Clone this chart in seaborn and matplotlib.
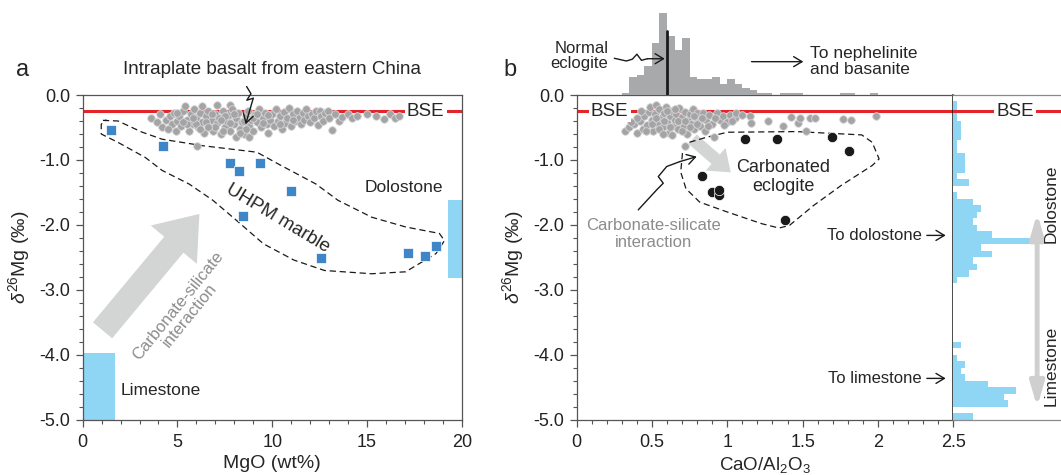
import matplotlib
matplotlib.use("Agg")
import matplotlib.pyplot as plt
from matplotlib.ticker import MultipleLocator, FuncFormatter
import numpy as np
import pandas as pd
import seaborn as sns

sns.set_theme(style="ticks")
plt.rcParams["font.family"] = ["Liberation Sans", "DejaVu Sans"]
plt.rcParams["axes.unicode_minus"] = False
plt.rcParams["mathtext.fontset"] = "custom"
plt.rcParams["mathtext.rm"] = "Liberation Sans"
plt.rcParams["mathtext.it"] = "Liberation Sans:italic"

# ==========================================
# DATA
# ==========================================
bse_d26 = -0.25

# intraplate basalts, panel a (MgO wt%, d26Mg)
basalt_mgo = [3.6, 3.9, 4.1, 4.2, 4.4, 4.6, 4.7, 4.8, 4.9, 5.0, 5.1, 5.2, 5.3, 5.4, 5.5, 5.6, 5.7,
              5.8, 5.9, 6.0, 6.05, 6.1, 6.2, 6.3, 6.3, 6.4, 6.5, 6.6, 6.7, 6.8, 6.9, 7.0, 7.1, 7.1,
              7.2, 7.3, 7.4, 7.5, 7.6, 7.7, 7.76, 7.8, 7.9, 8.0, 8.1, 8.1, 8.2, 8.3, 8.4, 8.5, 8.6,
              8.7, 8.8, 8.8, 8.9, 9.0, 9.1, 9.2, 9.3, 9.4, 9.5, 9.6, 9.7, 9.8, 9.9, 10.0, 10.1, 10.2,
              10.3, 10.4, 10.5, 10.6, 10.7, 10.8, 10.9, 11.0, 11.1, 11.2, 11.3, 11.4, 11.5, 11.6,
              11.7, 11.8, 11.9, 12.0, 12.1, 12.2, 12.3, 12.4, 12.5, 12.6, 12.7, 12.8, 12.96, 13.0,
              13.18, 13.3, 13.5, 13.7, 14.0, 14.2, 14.5, 14.98, 15.5, 15.9, 16.2, 16.5, 16.7,
              5.0, 5.5, 6.0, 6.5, 7.0, 7.5, 8.0, 8.5, 9.0, 9.5, 6.2, 7.3, 8.6, 5.8, 6.8, 7.8, 9.2,
              8.3, 7.4, 6.6, 5.3, 4.5, 9.8, 10.4, 11.1]
basalt_d26_a = [-0.35, -0.42, -0.30, -0.50, -0.38, -0.33, -0.45, -0.28, -0.55, -0.40, -0.33, -0.47,
                -0.25, -0.17, -0.38, -0.55, -0.30, -0.45, -0.22, -0.36, -0.78, -0.50, -0.28, -0.17,
                -0.42, -0.58, -0.33, -0.24, -0.47, -0.38, -0.55, -0.29, -0.16, -0.43, -0.35, -0.60,
                -0.25, -0.50, -0.40, -0.31, -0.16, -0.55, -0.22, -0.45, -0.65, -0.36, -0.28, -0.52,
                -0.42, -0.60, -0.33, -0.24, -0.64, -0.47, -0.38, -0.55, -0.30, -0.42, -0.22, -0.50,
                -0.35, -0.27, -0.45, -0.58, -0.38, -0.30, -0.48, -0.22, -0.40, -0.33, -0.52, -0.26,
                -0.43, -0.36, -0.20, -0.47, -0.30, -0.40, -0.25, -0.35, -0.45, -0.28, -0.38, -0.22,
                -0.33, -0.42, -0.30, -0.36, -0.24, -0.46, -0.24, -0.33, -0.40, -0.28, -0.24, -0.36,
                -0.54, -0.30, -0.40, -0.34, -0.30, -0.36, -0.33, -0.29, -0.32, -0.37, -0.30, -0.36,
                -0.33,
                -0.28, -0.45, -0.45, -0.42, -0.50, -0.33, -0.30, -0.40, -0.35, -0.43, -0.52, -0.38,
                -0.52, -0.36, -0.30, -0.43, -0.30, -0.58, -0.56, -0.50, -0.42, -0.52, -0.31, -0.45,
                -0.38]

# intraplate basalts, panel b (CaO/Al2O3, d26Mg)
basalt_cao_al = [0.32, 0.35, 0.38, 0.40, 0.42, 0.44, 0.45, 0.47, 0.48, 0.49, 0.50, 0.51, 0.52, 0.53,
                 0.54, 0.55, 0.56, 0.57, 0.58, 0.59, 0.60, 0.61, 0.62, 0.63, 0.64, 0.65, 0.66, 0.67,
                 0.68, 0.69, 0.70, 0.71, 0.72, 0.72, 0.73, 0.74, 0.75, 0.76, 0.77, 0.78, 0.79, 0.80,
                 0.81, 0.82, 0.84, 0.85, 0.86, 0.88, 0.90, 0.91, 0.93, 0.95, 0.97, 1.00, 1.02, 1.05,
                 1.06, 1.10, 1.15, 1.16, 1.27, 1.37, 1.42, 1.47, 1.48, 1.52, 1.55, 1.58, 1.77, 1.82,
                 1.99,
                 0.40, 0.43, 0.46, 0.50, 0.53, 0.55, 0.58, 0.60, 0.62, 0.65, 0.67, 0.70, 0.72, 0.75,
                 0.78, 0.80, 0.83, 0.87, 0.57, 0.63, 0.36, 0.92, 0.98, 1.03]
basalt_d26_b = [-0.56, -0.50, -0.45, -0.58, -0.40, -0.52, -0.33, -0.46, -0.26, -0.18, -0.38, -0.55,
                -0.30, -0.15, -0.44, -0.22, -0.36, -0.50, -0.28, -0.18, -0.42, -0.58, -0.33, -0.24,
                -0.47, -0.38, -0.29, -0.53, -0.20, -0.42, -0.34, -0.48, -0.79, -0.26, -0.60, -0.38,
                -0.30, -0.45, -0.22, -0.52, -0.35, -0.28, -0.42, -0.48, -0.28, -0.56, -0.38, -0.31,
                -0.44, -0.65, -0.28, -0.38, -0.33, -0.42, -0.31, -0.36, -0.28, -0.31, -0.33, -0.43,
                -0.40, -0.47, -0.34, -0.43, -0.36, -0.55, -0.36, -0.36, -0.37, -0.39, -0.32,
                -0.35, -0.25, -0.55, -0.45, -0.35, -0.52, -0.40, -0.25, -0.50, -0.22, -0.40, -0.55,
                -0.40, -0.50, -0.33, -0.45, -0.36, -0.47, -0.60, -0.62, -0.42, -0.36, -0.46, -0.40]

# UHPM marbles
marble_mgo = [1.52, 4.25, 7.76, 8.26, 9.37, 11.0, 8.47, 12.58, 17.18, 18.07, 18.64]
marble_d26 = [-0.54, -0.78, -1.04, -1.17, -1.04, -1.48, -1.86, -2.51, -2.43, -2.48, -2.32]

# carbonated eclogites
eclogite_cao_al = [1.115, 1.33, 1.694, 1.81, 0.833, 0.90, 0.943, 0.943, 1.383]
eclogite_d26 = [-0.68, -0.68, -0.64, -0.865, -1.24, -1.49, -1.545, -1.46, -1.92]

# sedimentary carbonate ranges
limestone_mgo = [0.0, 1.7]
limestone_d26 = [-3.97, -5.0]
dolostone_mgo = [19.3, 20.0]
dolostone_d26 = [-1.62, -2.81]

# CaO/Al2O3 histogram of basalts: bin centres (0.05 wide) and counts
ratio_bins = [0.325, 0.375, 0.425, 0.475, 0.525, 0.575, 0.625, 0.675, 0.725, 0.775,
              0.825, 0.875, 0.925, 0.975, 1.025, 1.075, 1.125, 1.175, 1.225, 1.275,
              1.325, 1.375, 1.425, 1.475, 1.525, 1.575, 1.625, 1.675, 1.725, 1.775,
              1.825, 1.875, 1.925, 1.975]
ratio_counts = [1, 8, 9, 13, 23, 36, 26, 20, 25, 8, 7, 7, 8, 5, 7, 5, 3, 2, 1, 1,
                0, 1, 1, 1, 0, 0, 0, 0, 0, 1, 1, 0, 0, 1]
normal_eclogite_ratio = 0.6

# d26Mg histogram of carbonates, 0.1 bins listed from 0.0 down to -5.0
carb_counts_top_down = [0, 1, 1, 1, 2, 2, 2, 1, 1, 3, 3, 3, 1, 4, 0, 1, 5, 7, 6, 5,
                        6, 10, 20, 7, 10, 5, 6, 4, 1, 0, 0, 0, 0, 0, 0, 0, 0, 0, 2, 0,
                        1, 3, 2, 3, 9, 16, 13, 14, 0, 5]

# hand drawn outlines
marble_field_x = [1.07, 1.87, 3.12, 4.19, 6.33, 9.19, 10.44, 12.31, 13.47, 15.25, 17.04, 18.82,
                  19.09, 18.64, 17.04, 15.25, 12.76, 11.15, 9.54, 8.12, 6.87, 5.62, 4.19, 3.30,
                  1.87, 0.98, 0.98, 1.25]
marble_field_y = [-0.39, -0.40, -0.57, -0.68, -0.78, -0.88, -1.08, -1.37, -1.62, -1.88, -2.03,
                  -2.13, -2.24, -2.44, -2.72, -2.75, -2.70, -2.54, -2.29, -1.93, -1.62, -1.37,
                  -1.16, -0.96, -0.73, -0.60, -0.45, -0.38]
eclogite_field_x = [0.749, 0.863, 1.0, 1.458, 1.893, 1.962, 2.008, 1.962, 1.756, 1.573, 1.413,
                    1.344, 1.229, 1.0, 0.817, 0.726, 0.691, 0.703, 0.749]
eclogite_field_y = [-0.727, -0.65, -0.573, -0.563, -0.614, -0.727, -0.983, -1.085, -1.392, -1.70,
                    -2.006, -2.047, -1.98, -1.80, -1.648, -1.443, -1.187, -0.88, -0.727]

# ==========================================
# STYLE
# ==========================================
RED = "#e3242b"
CYAN = "#8ed6f4"
BLUE = "#3f86c8"
GRAY_PT = "#a4a4a6"
GRAY_EDGE = "#d6d6d6"
GRAY_HIST = "#a8a9ab"
ARROW_GRAY = "#d3d4d4"
TEXT_GRAY = "#8c8c8c"
FRAME = "#555555"


def style_axes(ax):
    for s in ax.spines.values():
        s.set_color(FRAME)
        s.set_linewidth(0.9)
    ax.tick_params(which="both", direction="out", color=FRAME, labelsize=13,
                   labelcolor="#222222")
    ax.tick_params(axis="x", pad=5)
    ax.tick_params(axis="y", pad=4)
    ax.tick_params(which="major", length=5, width=0.9)
    ax.tick_params(which="minor", length=3, width=0.8)


def squiggle(ax, xs, ys, color="k"):
    ax.plot(xs[:-1], ys[:-1], color=color, lw=1.0, clip_on=False, zorder=6)
    ax.annotate("", xy=(xs[-1], ys[-1]), xytext=(xs[-2], ys[-2]), annotation_clip=False,
                arrowprops=dict(arrowstyle="->,head_length=0.5,head_width=0.3", color=color,
                                lw=1.0, shrinkA=0, shrinkB=0), zorder=6)


fig = plt.figure(figsize=(10.61, 4.75), dpi=100)
ax_a = fig.add_axes([0.0779, 0.1158, 0.3573, 0.6842])
ax_b = fig.add_axes([0.5435, 0.1158, 0.3549, 0.6842])
ax_r = fig.add_axes([0.8985, 0.1158, 0.1213, 0.6842])
ax_t = fig.add_axes([0.5435, 0.8, 0.3549, 0.179])

# ==========================================
# PANEL A
# ==========================================
ax_a.fill_between(limestone_mgo, limestone_d26[0], limestone_d26[1], color=CYAN, lw=0, zorder=1)
ax_a.fill_between(dolostone_mgo, dolostone_d26[0], dolostone_d26[1], color=CYAN, lw=0, zorder=1)
ax_a.axhline(bse_d26, color=RED, lw=2.2, zorder=2)
ax_a.plot(marble_field_x, marble_field_y, color="k", lw=0.9, ls=(0, (5, 3)), zorder=2)
ax_a.annotate("", xy=(6.16, -1.83), xytext=(1.05, -3.62),
              arrowprops=dict(arrowstyle="simple,head_width=2.4,head_length=1.6,tail_width=1.0",
                              mutation_scale=18, color=ARROW_GRAY, lw=0, shrinkA=0, shrinkB=0),
              zorder=1)
sns.scatterplot(x=basalt_mgo, y=basalt_d26_a, ax=ax_a, color=GRAY_PT, edgecolor=GRAY_EDGE,
                s=30, linewidth=0.6, zorder=3, legend=False)
sns.scatterplot(x=marble_mgo, y=marble_d26, ax=ax_a, color=BLUE, marker="s", edgecolor="white",
                s=62, linewidth=0.5, zorder=4, legend=False)

ax_a.text(18.1, bse_d26, "BSE", fontsize=13.5, ha="center", va="center", zorder=5,
          bbox=dict(facecolor="white", edgecolor="none", pad=1.5))
ax_a.text(16.95, -1.42, "Dolostone", fontsize=12.5, ha="center", va="center")
ax_a.text(2.0, -4.55, "Limestone", fontsize=12.5, ha="left", va="center")
ax_a.text(10.3, -1.9, "UHPM marble", fontsize=13.5, ha="center", va="center", rotation=-31)
ax_a.text(5.35, -3.32, "Carbonate-silicate\ninteraction", fontsize=12, ha="center",
          va="center", rotation=51, color=TEXT_GRAY, linespacing=1.0)
squiggle(ax_a, [8.65, 8.88, 8.66, 9.0, 8.6], [0.13, 0.02, -0.08, -0.05, -0.45])

ax_a.set_xlim(0, 20)
ax_a.set_ylim(-5, 0)
ax_a.xaxis.set_major_locator(MultipleLocator(5))
ax_a.xaxis.set_minor_locator(MultipleLocator(1))
ax_a.yaxis.set_major_locator(MultipleLocator(1))
ax_a.yaxis.set_minor_locator(MultipleLocator(0.2))
ax_a.yaxis.set_major_formatter(FuncFormatter(lambda v, p: f"{v:.1f}"))
ax_a.set_xlabel("MgO (wt%)", fontsize=14, labelpad=3)
ax_a.set_ylabel(r"$\delta^{26}$Mg (‰)", fontsize=14, labelpad=5)
style_axes(ax_a)

# ==========================================
# PANEL B
# ==========================================
ax_b.axhline(bse_d26, color=RED, lw=2.2, zorder=2)
ax_b.plot(eclogite_field_x, eclogite_field_y, color="k", lw=0.9, ls=(0, (5, 3)), zorder=2)
ax_b.annotate("", xy=(1.023, -1.19), xytext=(0.77, -0.68),
              arrowprops=dict(arrowstyle="simple,head_width=2.4,head_length=1.6,tail_width=1.0",
                              mutation_scale=9, color=ARROW_GRAY, lw=0, shrinkA=0, shrinkB=0),
              zorder=1)
sns.scatterplot(x=basalt_cao_al, y=basalt_d26_b, ax=ax_b, color=GRAY_PT, edgecolor=GRAY_EDGE,
                s=30, linewidth=0.6, zorder=3, legend=False)
sns.scatterplot(x=eclogite_cao_al, y=eclogite_d26, ax=ax_b, color="#1a1a1a", edgecolor="white",
                s=55, linewidth=0.5, zorder=4, legend=False)

ax_b.text(0.22, bse_d26, "BSE", fontsize=13.5, ha="center", va="center", zorder=5,
          bbox=dict(facecolor="white", edgecolor="none", pad=1.5))
ax_b.text(1.37, -1.26, "Carbonated\neclogite", fontsize=13, ha="center", va="center",
          linespacing=1.1)
ax_b.text(0.51, -2.14, "Carbonate-silicate\ninteraction", fontsize=12, ha="center",
          va="center", color=TEXT_GRAY, linespacing=1.1)
squiggle(ax_b, [0.409, 0.531, 0.575, 0.542, 0.598, 0.686, 0.797],
         [-1.767, -1.46, -1.357, -1.255, -1.10, -1.024, -0.948])
for label, yv in [("To dolostone", -2.16), ("To limestone", -4.36)]:
    ax_b.text(2.29, yv, label, fontsize=12, ha="right", va="center")
    ax_b.annotate("", xy=(2.45, yv), xytext=(2.325, yv),
                  arrowprops=dict(arrowstyle="->,head_length=0.5,head_width=0.3", color="k",
                                  lw=1.0, shrinkA=0, shrinkB=0))

ax_b.set_xlim(0, 2.5)
ax_b.set_ylim(-5, 0)
ax_b.xaxis.set_major_locator(MultipleLocator(0.5))
ax_b.xaxis.set_minor_locator(MultipleLocator(0.1))
ax_b.yaxis.set_major_locator(MultipleLocator(1))
ax_b.yaxis.set_minor_locator(MultipleLocator(0.2))
ax_b.xaxis.set_major_formatter(FuncFormatter(lambda v, p: f"{v:g}"))
ax_b.yaxis.set_major_formatter(FuncFormatter(lambda v, p: f"{v:.1f}"))
ax_b.set_xlabel(r"CaO/Al$_2$O$_3$", fontsize=13.5, labelpad=3)
ax_b.set_ylabel(r"$\delta^{26}$Mg (‰)", fontsize=14, labelpad=5)
style_axes(ax_b)
ax_b.spines["right"].set_color("k")
ax_b.spines["right"].set_linewidth(1.1)

# ==========================================
# RIGHT HISTOGRAM (carbonates)
# ==========================================
carb_df = pd.DataFrame({
    "d26": -0.05 - 0.1 * np.arange(len(carb_counts_top_down)),
    "n": carb_counts_top_down,
})
sns.histplot(data=carb_df, y="d26", weights="n", binwidth=0.1, binrange=(-5.0, 0.0), ax=ax_r,
             color=CYAN, alpha=1, linewidth=0, zorder=1)
ax_r.axhline(bse_d26, color=RED, lw=2.2, zorder=2)
ax_r.text(15.8, bse_d26, "BSE", fontsize=13.5, ha="center", va="center", zorder=5,
          bbox=dict(facecolor="white", edgecolor="none", pad=1.5))
ax_r.annotate("", xy=(21.5, -1.82), xytext=(21.5, -4.8),
              arrowprops=dict(arrowstyle="<|-|>,head_length=1.2,head_width=0.35",
                              color="#cfcfcf", lw=3.5, shrinkA=0, shrinkB=0))
ax_r.text(25.1, -1.67, "Dolostone", fontsize=12.5, rotation=90, ha="center", va="center")
ax_r.text(25.1, -4.16, "Limestone", fontsize=12.5, rotation=90, ha="center", va="center")
ax_r.set_xlim(0, 33)
ax_r.set_ylim(-5, 0)
ax_r.set_xticks([])
ax_r.set_yticks([])
ax_r.set_xlabel("")
ax_r.set_ylabel("")
for side in ["top", "bottom"]:
    ax_r.spines[side].set_color("#8a8a8a")
    ax_r.spines[side].set_linewidth(0.9)
ax_r.spines["left"].set_visible(False)
ax_r.spines["right"].set_visible(False)

# ==========================================
# TOP HISTOGRAM (basalt CaO/Al2O3)
# ==========================================
ratio_df = pd.DataFrame({"ratio": ratio_bins, "n": ratio_counts})
sns.histplot(data=ratio_df, x="ratio", weights="n", binwidth=0.05, binrange=(0.30, 2.0),
             ax=ax_t, color=GRAY_HIST, alpha=1, linewidth=0)
ax_t.plot([normal_eclogite_ratio, normal_eclogite_ratio], [0, 28.2], color="k", lw=2)
ax_t.text(0.21, 17.3, "Normal\neclogite", fontsize=12, ha="right", va="center",
          linespacing=1.0)
squiggle(ax_t, [0.25, 0.33, 0.37, 0.40, 0.43, 0.47, 0.585],
         [16.2, 15.0, 15.8, 18.0, 15.3, 16.0, 16.0])
ax_t.annotate("", xy=(1.505, 14.7), xytext=(1.161, 14.7),
              arrowprops=dict(arrowstyle="->,head_length=0.5,head_width=0.3", color="k",
                              lw=1.0, shrinkA=0, shrinkB=0))
ax_t.text(1.55, 14.6, "To nephelinite\nand basanite", fontsize=12.5, ha="left", va="center",
          linespacing=1.1)
ax_t.set_xlim(0, 2.5)
ax_t.set_ylim(0, 37.5)
ax_t.axis("off")

# panel letters and title
fig.text(0.021, 0.853, "a", fontsize=17, ha="center", va="center")
fig.text(0.481, 0.853, "b", fontsize=17, ha="center", va="center")
fig.text(0.256, 0.853, "Intraplate basalt from eastern China", fontsize=13.5, ha="center",
         va="center")

fig.savefig("out.png", dpi=100)
